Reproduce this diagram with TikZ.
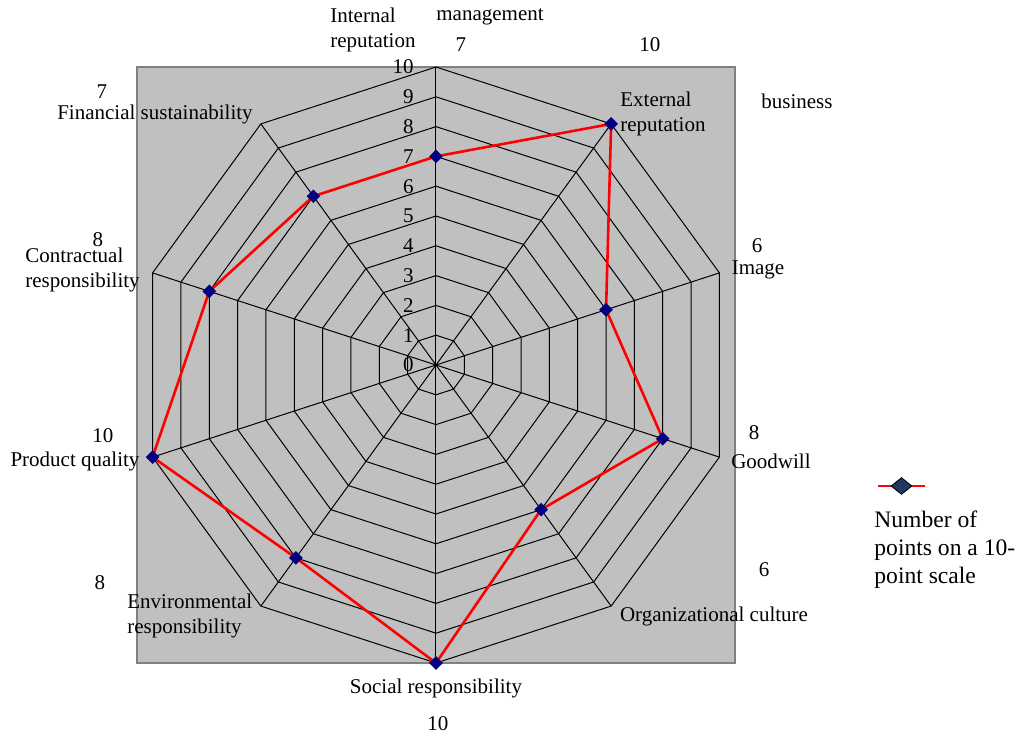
\documentclass[tikz,border=0pt]{standalone}
\usepackage{fontspec}
\setmainfont{Liberation Serif}
\usetikzlibrary{shapes.geometric}
\definecolor{c1}{RGB}{192,192,192}
\definecolor{c2}{RGB}{128,128,128}
\definecolor{c3}{RGB}{0,0,128}
\definecolor{c4}{RGB}{31,56,96}

\begin{document}
\begin{tikzpicture}[x=0.5pt,y=0.5pt,
    lbl/.style={font=\fontsize{10.5}{12.5}\selectfont,inner sep=0pt},
    leglbl/.style={font=\fontsize{11.8}{14}\selectfont,inner sep=0pt},
    ptmark/.style={diamond,fill=c3,inner sep=0pt,minimum size=7pt},
    webline/.style={black,line width=0.5pt}]
      \useasboundingbox (-436,-370) rectangle (588,365);
      \draw[c2,fill=c1,line width=1.2pt] (-299,-298) rectangle (299,298);%plot area

      % rings and spokes
      \foreach \r in {1,...,10}
        \draw[webline] (90:{\r*29.8}) \foreach \k in {1,...,9}{ -- ({90-36*\k}:{\r*29.8})} -- cycle;
      \foreach \k in {0,...,9}
        \draw[webline] (0,0) -- ({90-36*\k}:298);
      \foreach \v in {0,...,10}
        \node[lbl,anchor=east] (t\v) at (-22,{\v*29.8}) {\v};

      % data
      \foreach \v [count=\k from 0] in {7,10,6,8,6,10,8,10,8,7}
        \coordinate (p\k) at ({90-36*\k}:{\v*29.8});
      \draw[red,line width=1.3pt] (p0) -- (p1) -- (p2) -- (p3) -- (p4) -- (p5)
            -- (p6) -- (p7) -- (p8) -- (p9) -- cycle;
      \foreach \k in {0,...,9}
        \node[ptmark] (m\k) at (p\k) {};

      % axis labels
      \node[lbl,align=left,anchor=west] (intrep) at (-106,335.5) {Internal\\reputation};
      \node[lbl] (mgmt) at (54,348) {management};
      \node[lbl] (v0) at (25,320) {7};
      \node[lbl] (v1) at (214,320) {10};
      \node[lbl,align=left,anchor=west] (extrep) at (184,251.5) {External\\reputation};
      \node[lbl] (bus) at (361,264) {business};
      \node[lbl] (v2) at (321,119) {6};
      \node[lbl] (img) at (322,95) {Image};
      \node[lbl] (v3) at (318,-68) {8};
      \node[lbl] (gw) at (335,-96) {Goodwill};
      \node[lbl] (v4) at (328,-205) {6};
      \node[lbl] (orgc) at (278,-251) {Organizational culture};
      \node[lbl] (socr) at (0,-323) {Social responsibility};
      \node[lbl] (v5) at (2,-359) {10};
      \node[lbl] (v6) at (-336,-218) {8};
      \node[lbl,align=left,anchor=west] (envr) at (-309,-251) {Environmental\\responsibility};
      \node[lbl] (v7) at (-333,-71) {10};
      \node[lbl] (prodq) at (-361,-96) {Product quality};
      \node[lbl] (v8) at (-338,125) {8};
      \node[lbl,align=left,anchor=west] (contr) at (-411,95) {Contractual\\responsibility};
      \node[lbl] (v9) at (-334,273) {7};
      \node[lbl] (fins) at (-281,251) {Financial sustainability};

      % legend
      \coordinate (legL) at (442,-121);
      \coordinate (legR) at (489,-121);
      \draw[red,line width=1pt] (legL) -- (legR);
      \node[diamond,draw=black,fill=c4,inner sep=0pt,minimum width=10.5pt,minimum height=8.5pt] (legM) at (465.5,-121) {};
      \node[leglbl,align=left,anchor=west] (legtxt) at (438,-184.5) {Number of\\points on a 10-\\point scale};
    \end{tikzpicture}
\end{document}
